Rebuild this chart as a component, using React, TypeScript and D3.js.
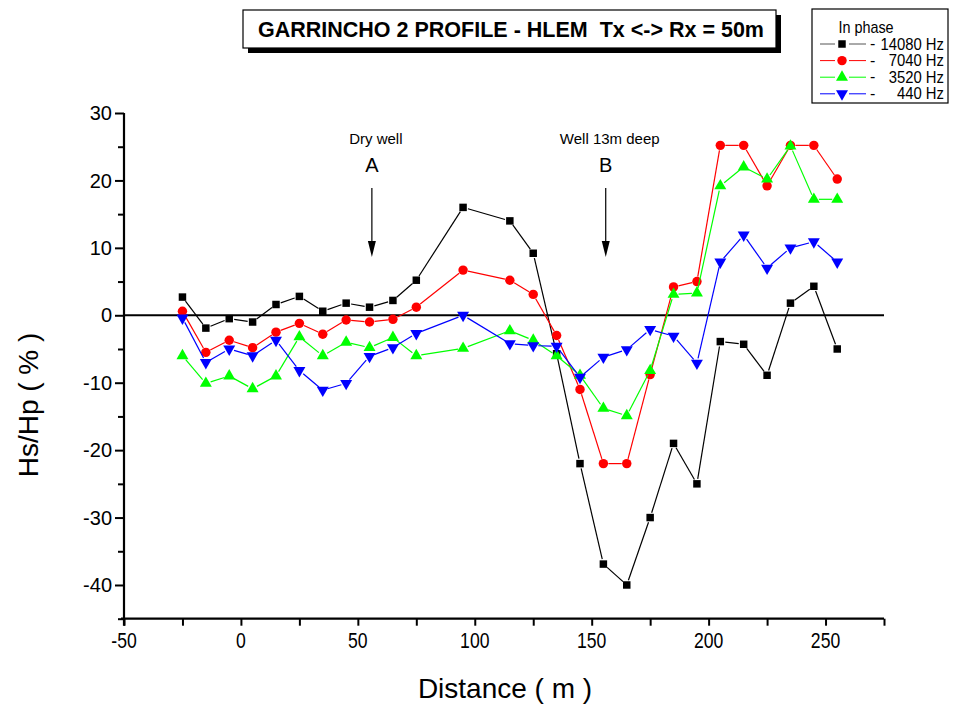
import React, { useEffect, useRef } from 'react';
import * as d3 from 'd3';

// distance along profile (m)
const distance = [-25, -15, -5, 5, 15, 25, 35, 45, 55, 65, 75, 95, 115, 125, 135, 145, 155, 165, 175, 185, 195, 205, 215, 225, 235, 245, 255];

// Hs/Hp (%) in phase
const hz14080 = [2.7, -1.9, -0.5, -1.0, 1.6, 2.8, 0.6, 1.8, 1.2, 2.2, 5.2, 16, 14, 9.2, -5.7, -22, -36.9, -40, -30, -19, -25, -3.9, -4.3, -8.9, 1.8, 4.3, -5];
const hz7040 = [0.6, -5.5, -3.7, -4.8, -2.5, -1.2, -2.8, -0.7, -1.0, -0.6, 1.2, 6.7, 5.2, 3.1, -3.0, -11, -22, -22, -8.8, 4.2, 5, 25.2, 25.2, 19.2, 25.2, 25.2, 20.2];
const hz3520 = [-6, -10.1, -9, -10.9, -9, -3.2, -6, -4, -4.8, -3.3, -6, -4.9, -2.3, -3.7, -6, -8.9, -13.8, -14.9, -8.2, 3.1, 3.3, 19.2, 22, 20.2, 25.1, 17.2, 17.2];
const hz440 = [-0.4, -7, -5, -6, -3.7, -8.2, -11.1, -10.1, -6.1, -4.8, -2.7, 0, -4.2, -4.5, -4.6, -9.2, -6.2, -5.1, -2.1, -3.1, -7.1, 7.9, 11.9, 7, 10, 10.9, 7.9];

const seriesLabels = ['14080 Hz', '7040 Hz', '3520 Hz', '440 Hz'];
const xTicks = [-50, 0, 50, 100, 150, 200, 250];
const yTicks = [-40, -30, -20, -10, 0, 10, 20, 30];

const annotations = [
  { x: 56, title: 'Dry well', letter: 'A' },
  { x: 156, title: 'Well 13m deep', letter: 'B' },
];

const width = 953;
const height = 709;
const sans = "'Liberation Sans', Arial, sans-serif";

const series = [
  { values: hz14080, label: seriesLabels[0], color: '#000000', symbol: 'square' },
  { values: hz7040, label: seriesLabels[1], color: '#ff0000', symbol: 'circle' },
  { values: hz3520, label: seriesLabels[2], color: '#00ff00', symbol: 'up' },
  { values: hz440, label: seriesLabels[3], color: '#0000ff', symbol: 'down' },
];

function symbolPath(kind) {
  if (kind === 'square') return d3.symbol(d3.symbolSquare, 56)();
  if (kind === 'circle') return d3.symbol(d3.symbolCircle, 70)();
  return d3.symbol(d3.symbolTriangle, 62)();
}

function App() {
  const ref = useRef(null);

  useEffect(() => {
    d3.select(ref.current).selectAll('*').remove();
    const svg = d3.select(ref.current);

    const x = d3.scaleLinear().domain([-50, 275]).range([124, 884]);
    const y = d3.scaleLinear().domain([-45, 30]).range([618.7, 113]);

    // axes
    const xAxis = svg.append('g').attr('transform', `translate(0,${y(-45)})`);
    xAxis
      .call(
        d3.axisBottom(x).tickValues(d3.range(-50, 276, 25)).tickSize(7).tickSizeOuter(0).tickFormat(() => '')
      )
      .call((g) => g.selectAll('line').attr('stroke-width', 2))
      .call((g) => g.select('.domain').attr('stroke-width', 2.2).attr('d', `M${x(-50) - 3},0H${x(275)}`));
    xTicks.forEach((t) => {
      xAxis
        .append('text')
        .attr('transform', `translate(${x(t)},29) scale(0.8,1)`)
        .attr('text-anchor', 'middle')
        .attr('fill', '#000')
        .style('font-family', sans)
        .style('font-size', '22px')
        .text(t);
    });

    const yAxis = svg.append('g').attr('transform', `translate(${x(-50)},0)`);
    yAxis
      .call(d3.axisLeft(y).tickValues(d3.range(-45, 31, 5)).tickSize(6).tickSizeOuter(0).tickFormat(() => ''))
      .call((g) => g.selectAll('line').attr('stroke-width', 2))
      .call((g) => g.select('.domain').attr('stroke-width', 2.2).attr('d', `M0,${y(-45) + 7}V${y(30)}`));
    yAxis.selectAll('.tick').each(function (d) {
      if (yTicks.includes(d)) d3.select(this).select('line').attr('x2', -9);
    });
    yTicks.forEach((t) => {
      yAxis
        .append('text')
        .attr('x', -12)
        .attr('y', y(t))
        .attr('dy', '0.36em')
        .attr('text-anchor', 'end')
        .attr('fill', '#000')
        .style('font-family', sans)
        .style('font-size', '20px')
        .text(t);
    });

    // zero line
    svg
      .append('line')
      .attr('x1', x(-50))
      .attr('x2', x(275))
      .attr('y1', y(0))
      .attr('y2', y(0))
      .attr('stroke', '#000')
      .attr('stroke-width', 2);

    // axis titles
    svg
      .append('text')
      .attr('x', 505)
      .attr('y', 698)
      .attr('text-anchor', 'middle')
      .style('font-family', sans)
      .style('font-size', '28px')
      .text('Distance ( m )');

    svg
      .append('text')
      .attr('transform', 'translate(38,405) rotate(-90)')
      .attr('text-anchor', 'middle')
      .style('font-family', sans)
      .style('font-size', '28px')
      .text('Hs/Hp ( % )');

    // annotations
    annotations.forEach((a) => {
      const ax = x(a.x);
      svg
        .append('text')
        .attr('x', ax + 4)
        .attr('y', 144)
        .attr('text-anchor', 'middle')
        .style('font-family', sans)
        .style('font-size', '15px')
        .text(a.title);
      svg
        .append('text')
        .attr('x', ax)
        .attr('y', 172)
        .attr('text-anchor', 'middle')
        .style('font-family', sans)
        .style('font-size', '20px')
        .text(a.letter);
      svg
        .append('line')
        .attr('x1', ax)
        .attr('x2', ax)
        .attr('y1', 188)
        .attr('y2', 245)
        .attr('stroke', '#000')
        .attr('stroke-width', 1.2);
      svg
        .append('path')
        .attr('d', `M${ax - 4},${241}L${ax + 4},${241}L${ax},${257}Z`)
        .attr('fill', '#000');
    });

    // series: segments with small gaps at symbols, then symbols
    const gap = 5;
    series.forEach((s) => {
      const pts = s.values.map((v, i) => [x(distance[i]), y(v)]);
      const g = svg.append('g');
      for (let i = 0; i < pts.length - 1; i++) {
        const [x1, y1] = pts[i];
        const [x2, y2] = pts[i + 1];
        const len = Math.hypot(x2 - x1, y2 - y1);
        if (len <= gap * 2) continue;
        const ux = (x2 - x1) / len;
        const uy = (y2 - y1) / len;
        g.append('line')
          .attr('x1', x1 + ux * gap)
          .attr('y1', y1 + uy * gap)
          .attr('x2', x2 - ux * gap)
          .attr('y2', y2 - uy * gap)
          .attr('stroke', s.color)
          .attr('stroke-width', 1.2);
      }
      g.selectAll('path.sym')
        .data(pts)
        .enter()
        .append('path')
        .attr('class', 'sym')
        .attr('d', symbolPath(s.symbol))
        .attr('transform', (p) => `translate(${p[0]},${p[1]})${s.symbol === 'down' ? ' rotate(180)' : ''}`)
        .attr('fill', s.color);
    });

    // title box
    svg.append('rect').attr('x', 248).attr('y', 15).attr('width', 533).attr('height', 38).attr('fill', '#000');
    svg
      .append('rect')
      .attr('x', 243)
      .attr('y', 10)
      .attr('width', 533)
      .attr('height', 38)
      .attr('fill', '#fff')
      .attr('stroke', '#000')
      .attr('stroke-width', 1.2);
    svg
      .append('text')
      .attr('x', 511)
      .attr('y', 37)
      .attr('text-anchor', 'middle')
      .style('font-family', sans)
      .style('font-weight', 'bold')
      .style('font-size', '21.5px')
      .attr('xml:space', 'preserve')
      .text('GARRINCHO 2 PROFILE - HLEM  Tx <-> Rx = 50m');

    // legend
    const lg = svg.append('g');
    lg.append('rect')
      .attr('x', 812)
      .attr('y', 9)
      .attr('width', 136)
      .attr('height', 94)
      .attr('fill', '#fff')
      .attr('stroke', '#000')
      .attr('stroke-width', 1.2);
    lg.append('text')
      .attr('transform', 'translate(866,33) scale(0.9,1)')
      .attr('text-anchor', 'middle')
      .style('font-family', sans)
      .style('font-size', '16px')
      .text('In phase');
    series.forEach((s, i) => {
      const cy = 44 + i * 16.6;
      const lc = s.color === '#000000' ? '#555' : s.color;
      lg.append('line').attr('x1', 820).attr('x2', 835).attr('y1', cy).attr('y2', cy).attr('stroke', lc).attr('stroke-width', 1);
      lg.append('line').attr('x1', 849).attr('x2', 866).attr('y1', cy).attr('y2', cy).attr('stroke', lc).attr('stroke-width', 1);
      lg.append('path')
        .attr('d', symbolPath(s.symbol))
        .attr('transform', `translate(842,${cy})${s.symbol === 'down' ? ' rotate(180)' : ''}`)
        .attr('fill', s.color);
      lg.append('text')
        .attr('x', 870)
        .attr('y', cy + 5)
        .style('font-family', sans)
        .style('font-size', '16px')
        .text('-');
      lg.append('text')
        .attr('transform', `translate(944,${cy + 5.5}) scale(0.9,1)`)
        .attr('text-anchor', 'end')
        .style('font-family', sans)
        .style('font-size', '16.5px')
        .text(s.label);
    });
  }, []);

  return (
    <svg
      ref={ref}
      width={width}
      height={height}
      style={{ position: 'absolute', left: 0, top: 0, background: '#fff' }}
    ></svg>
  );
}

export default App;
